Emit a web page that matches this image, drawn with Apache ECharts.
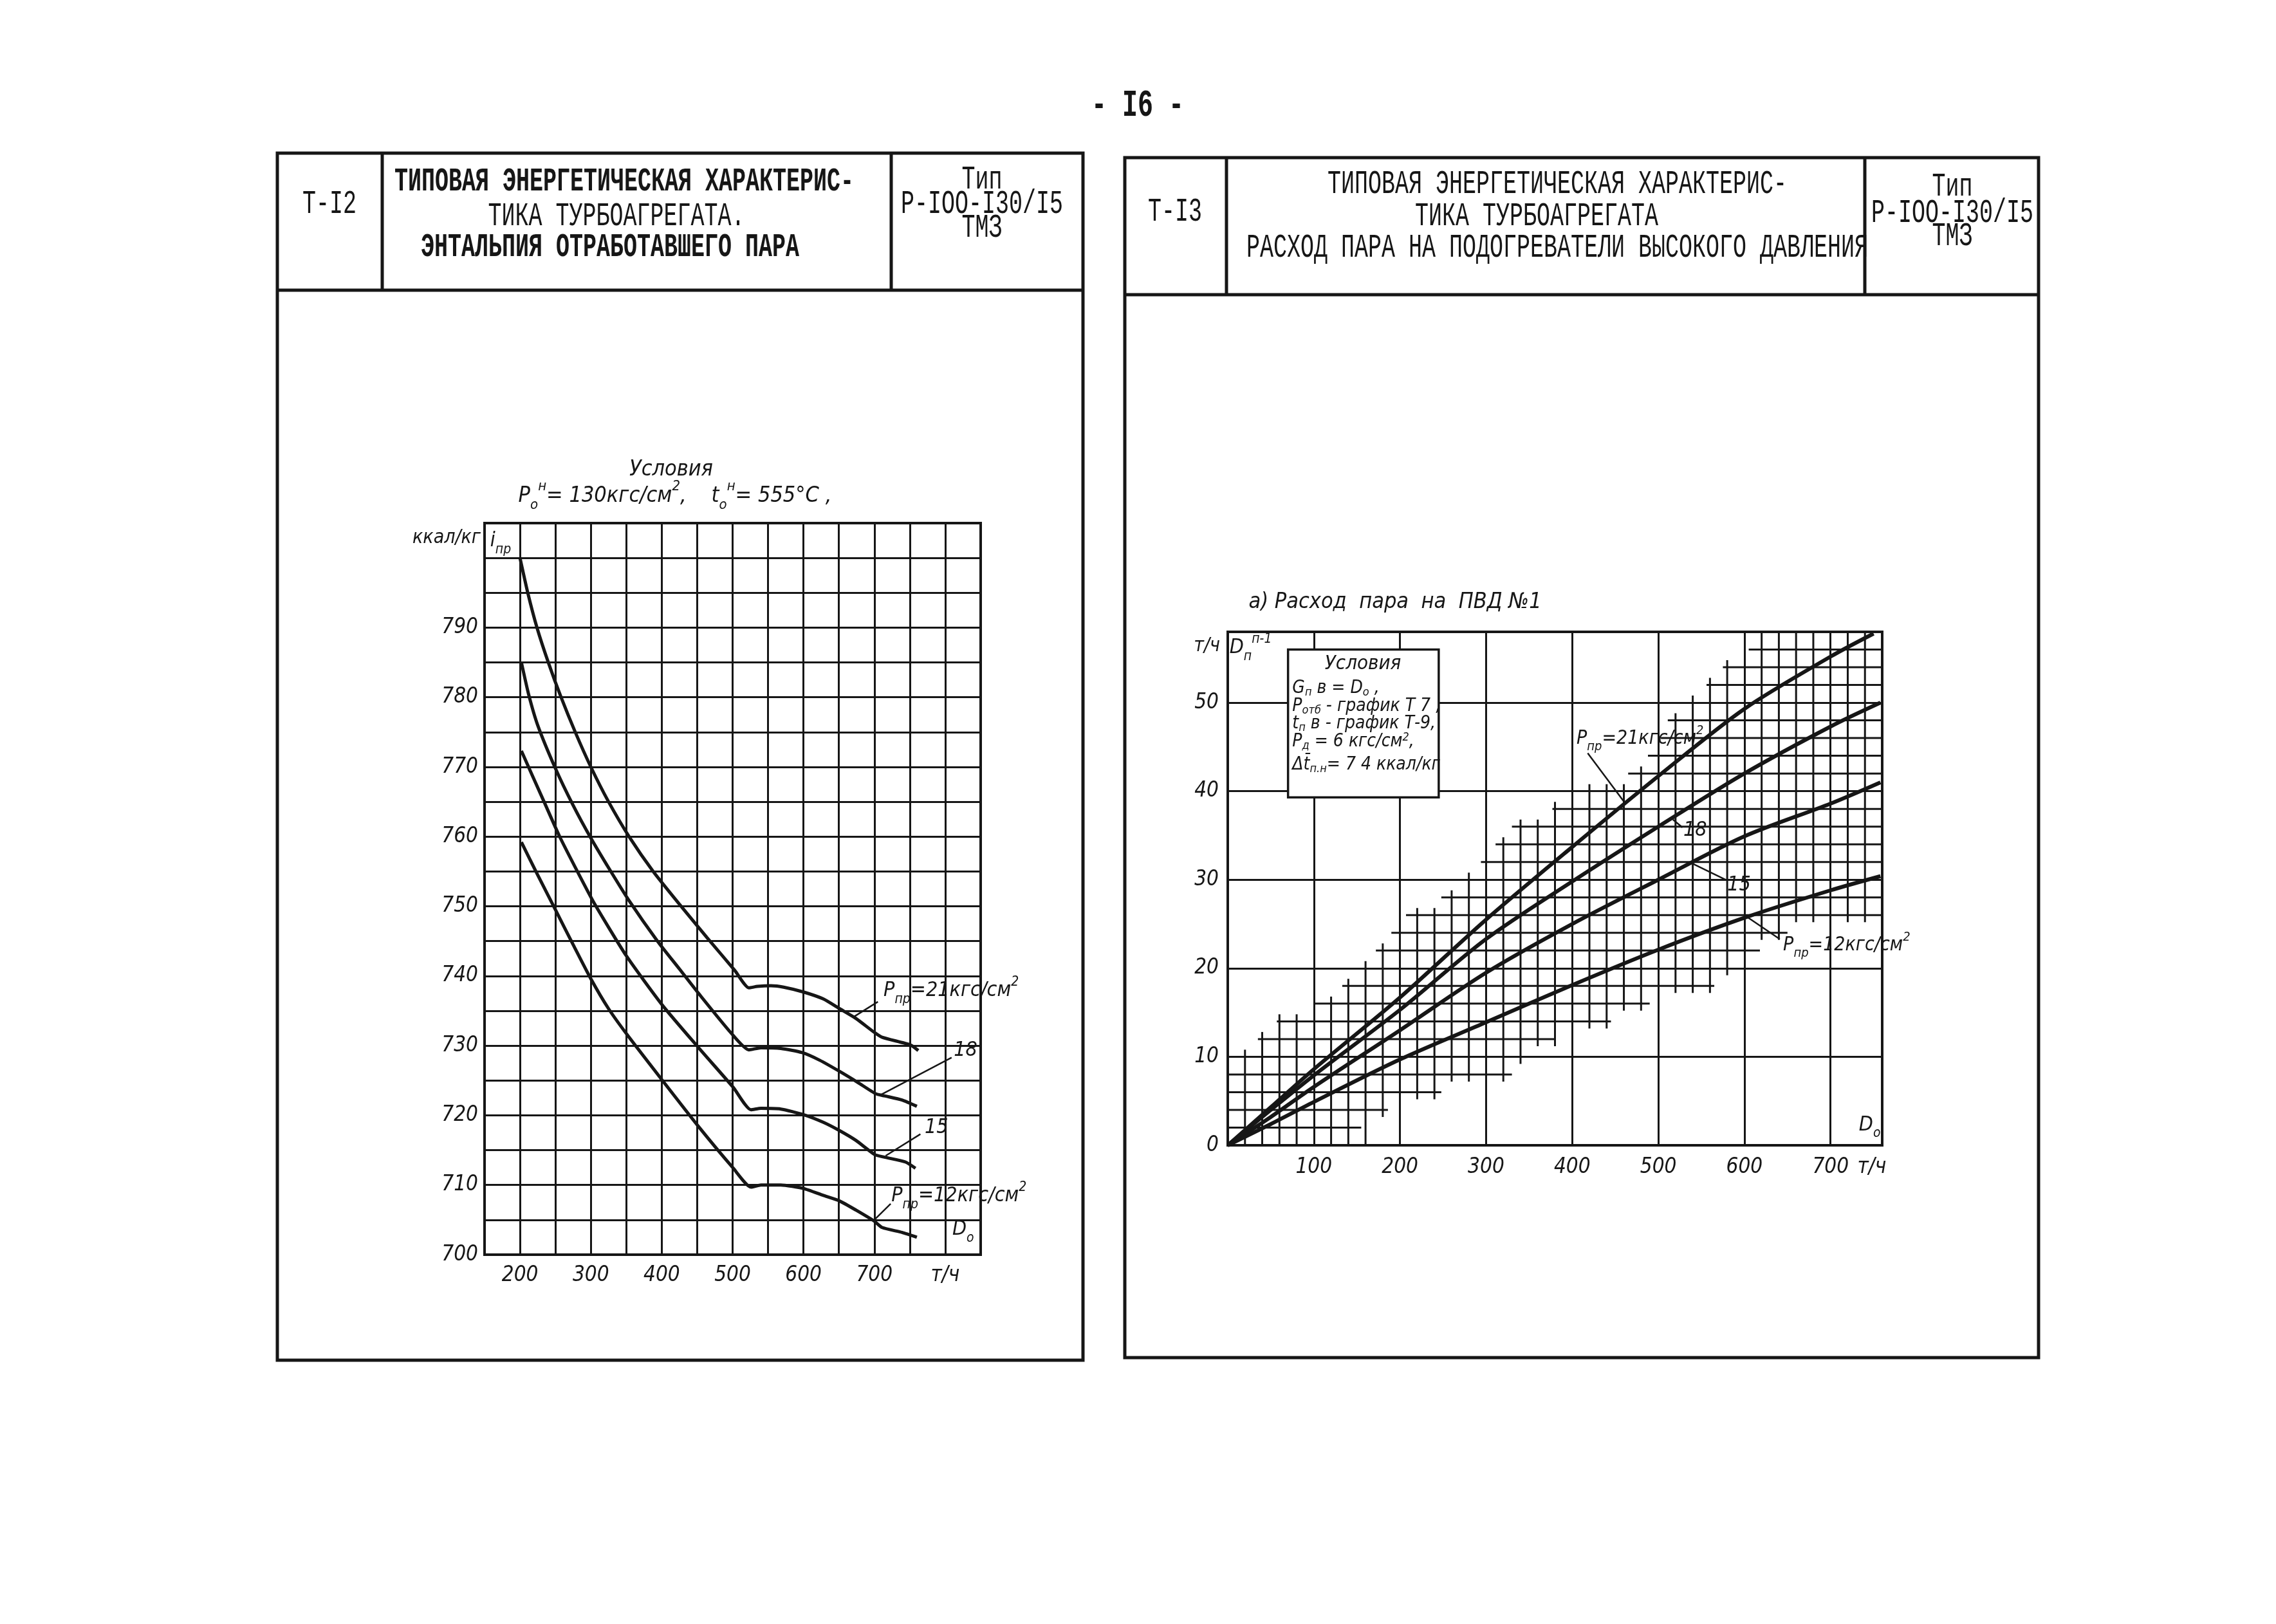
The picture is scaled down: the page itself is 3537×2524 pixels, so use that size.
<!DOCTYPE html>
<html><head><meta charset="utf-8">
<script src="https://cdn.jsdelivr.net/npm/echarts/dist/echarts.min.js"></script>
<style>html,body{margin:0;padding:0;background:#fff}#c{width:3537px;height:2524px}</style>
</head><body><div id="c"></div>
<script>
// ---------- DATA ----------
// Left chart T-12: enthalpy of exhaust steam i_пр (ккал/кг) vs D_o (т/ч)
const leftXTicks = [200, 300, 400, 500, 600, 700];
const leftXUnitAt = 800;
const leftYTicks = [700, 710, 720, 730, 740, 750, 760, 770, 780, 790];
const enth21 = [[200,800],[211,795],[224,790],[240,785],[258,780],[278,775],[300,770],[325,765],[354,760],[388,755],[425,750.3],[464,745.5],[503,740.8],[523,738.3],[535,738.5],[554,738.6],[572,738.4],[600,737.7],[628,736.7],[651,735.3],[674,733.9],[700,731.9],[711,731.2],[751,730.1],[762,729.3]];
const enth18 = [[202,785],[212,780.5],[225,776],[250,769.8],[275,764.5],[300,759.8],[327,755.2],[354,750.8],[394,745],[425,741],[452,737.5],[498,731.8],[523,729.4],[540,729.7],[568,729.6],[598,729],[623,727.9],[651,726.3],[677,724.7],[702,723.1],[714,722.8],[739,722.2],[760,721.3]];
const enth15 = [[202,772.3],[234,765],[256,760],[281,755],[305,750.4],[350,742.9],[401,735.8],[452,729.7],[501,724],[526,720.8],[540,721],[568,720.9],[600,720.1],[628,719],[651,717.8],[674,716.4],[700,714.4],[714,714],[744,713.3],[758,712.4]];
const enth12 = [[202,759.2],[225,754.5],[250,749.5],[275,744.5],[300,739.6],[325,735.3],[351,731.6],[401,725],[451,718.5],[501,712.4],[526,709.7],[540,710],[568,710],[600,709.5],[628,708.5],[651,707.7],[674,706.4],[700,704.8],[711,703.9],[739,703.2],[760,702.5]];

// Right chart T-13: steam flow to HPH No1 D_п (т/ч) vs D_o (т/ч)
const rightXTicks = [100, 200, 300, 400, 500, 600, 700];
const rightYTicks = [0, 10, 20, 30, 40, 50];
const flow21 = [[0,0],[50,4.3],[100,8.6],[200,16.7],[300,25.5],[400,33.7],[500,41.7],[600,49.3],[700,55.2],[750,57.8]];
const flow18 = [[0,0],[50,4.0],[100,7.9],[200,15.3],[300,23.3],[400,29.8],[500,36.0],[600,42.0],[700,47.3],[758,50.0]];
const flow15 = [[0,0],[50,3.2],[100,6.6],[200,13.0],[300,19.5],[400,25.0],[500,30.0],[600,34.9],[700,38.6],[758,41.0]];
const flow12 = [[0,0],[50,2.4],[100,4.9],[200,9.7],[300,13.9],[400,18.1],[500,22.1],[600,25.7],[700,28.8],[758,30.4]];
// fine-grid band: [y, xStart, xEnd] for each 2-unit row
const bandRows = [[0,0,165],[2,0,155],[4,0,186],[6,0,248],[8,0,330],[10,0,350],[12,35,380],[14,57,445],[16,100,490],[18,133,565],[20,152,590],[22,172,618],[24,190,650],[26,207,760],[28,248,760],[30,272,760],[32,294,760],[34,311,760],[36,330,760],[38,377,760],[40,418,760],[42,465,760],[44,488,760],[46,503,760],[48,511,760],[50,533,760],[52,556,760],[54,575,760],[56,605,760],[58,600,760]];

// ---------- STYLE ----------
const HAND = "'Liberation Sans Narrow','DejaVu Sans Condensed','Liberation Sans',sans-serif";
const TYPE = "'Liberation Mono','DejaVu Sans Mono',monospace";
const INK = '#161616';

const chart = echarts.init(document.getElementById('c'));

function fine() {
  const segs = [];
  bandRows.forEach(r => { if (r[0] % 10 !== 0 && r[0] > 0 && r[0] < 58) segs.push([0, r[0], r[1], r[2]]); });
  for (let x = 20; x < 760; x += 20) {
    if (x % 100 === 0) continue;
    let lo = null, hi = null;
    bandRows.forEach(r => { if (r[1] <= x && x <= r[2]) { if (lo === null || r[0] < lo) lo = r[0]; if (hi === null || r[0] > hi) hi = r[0]; } });
    if (lo === null) continue;
    segs.push([1, x, Math.max(0, lo - 0.8), Math.min(58, hi + 0.8)]);
  }
  return segs;
}

const axisLbl = {fontFamily: HAND, fontStyle: 'italic', fontSize: 33, color: INK};
const lineS = (g, d, w, sm) => ({type: 'line', xAxisIndex: g, yAxisIndex: g, data: d, showSymbol: false, symbol: 'none', smooth: sm, z: 5, lineStyle: {color: INK, width: w}});

chart.setOption({
  animation: false,
  backgroundColor: '#ffffff',
  grid: [
    {left: 753, top: 813, width: 771, height: 1137, show: true, borderColor: INK, borderWidth: 4, outerBoundsMode: 'none', containLabel: false},
    {left: 1908, top: 982, width: 1017, height: 798, show: true, borderColor: INK, borderWidth: 4, outerBoundsMode: 'none', containLabel: false}
  ],
  xAxis: [
    {gridIndex: 0, type: 'value', min: 150, max: 850, interval: 50,
      axisLine: {show: true, lineStyle: {color: INK, width: 4}}, axisTick: {show: false},
      splitLine: {show: true, lineStyle: {color: INK, width: 3}},
      axisLabel: Object.assign({}, axisLbl, {margin: 16, showMinLabel: true, showMaxLabel: true,
        formatter: v => leftXTicks.indexOf(v) >= 0 ? String(v) : (v === leftXUnitAt ? 'т/ч' : '')})},
    {gridIndex: 1, type: 'value', min: 0, max: 760, interval: 100,
      axisLine: {show: true, lineStyle: {color: INK, width: 4}}, axisTick: {show: false},
      splitLine: {show: true, lineStyle: {color: INK, width: 3}},
      axisLabel: Object.assign({}, axisLbl, {margin: 18, formatter: v => rightXTicks.indexOf(v) >= 0 ? String(v) : ''})}
  ],
  yAxis: [
    {gridIndex: 0, type: 'value', min: 700, max: 805, interval: 5,
      axisLine: {show: true, lineStyle: {color: INK, width: 4}}, axisTick: {show: false},
      splitLine: {show: true, lineStyle: {color: INK, width: 3}},
      axisLabel: Object.assign({}, axisLbl, {margin: 10, formatter: v => leftYTicks.indexOf(v) >= 0 ? String(v) : ''})},
    {gridIndex: 1, type: 'value', min: 0, max: 58, interval: 10,
      axisLine: {show: true, lineStyle: {color: INK, width: 4}}, axisTick: {show: false},
      splitLine: {show: true, lineStyle: {color: INK, width: 3}},
      axisLabel: Object.assign({}, axisLbl, {margin: 14, formatter: v => rightYTicks.indexOf(v) >= 0 ? String(v) : ''})}
  ],
  series: [
    lineS(0, enth21, 5, 0.2), lineS(0, enth18, 5, 0.2), lineS(0, enth15, 5, 0.2), lineS(0, enth12, 5, 0.2),
    {type: 'custom', xAxisIndex: 1, yAxisIndex: 1, data: fine(), z: 2, clip: false,
      renderItem: function (params, api) {
        const k = api.value(0), p = api.value(1), a = api.value(2), b = api.value(3);
        const s = k === 0 ? api.coord([a, p]) : api.coord([p, a]);
        const e = k === 0 ? api.coord([b, p]) : api.coord([p, b]);
        return {type: 'line', shape: {x1: s[0], y1: s[1], x2: e[0], y2: e[1]}, style: {stroke: INK, lineWidth: 3}};
      }},
    lineS(1, flow21, 6, 0.3), lineS(1, flow18, 6, 0.3), lineS(1, flow15, 6, 0.3), lineS(1, flow12, 6, 0.3),
    // leader lines
    ...[[[672,734.2],[705,736.3]], [[708,722.9],[809,728.3]], [[716,714.2],[765,717.3]], [[700,705],[723,707.3]]]
      .map(d => ({type: 'line', xAxisIndex: 0, yAxisIndex: 0, data: d, symbol: 'none', z: 6, lineStyle: {color: INK, width: 2.5}})),
    ...[[[418,44.3],[461,38.7]], [[517,36.8],[528,35.9]], [[540,31.8],[578,30]], [[603,25.8],[641,23.3]]]
      .map(d => ({type: 'line', xAxisIndex: 1, yAxisIndex: 1, data: d, symbol: 'none', z: 6, lineStyle: {color: INK, width: 2.5}}))
  ]
});

// ---------- ANNOTATIONS ----------
function px(g, p) { return chart.convertToPixel({gridIndex: g}, p); }
function rich(fs, lhf) {
  const lh = Math.round(fs * (lhf || 1.5));
  return {
    b: {fontSize: fs, fontFamily: HAND, fontStyle: 'italic', lineHeight: lh, verticalAlign: 'middle', fill: INK},
    sub: {fontSize: Math.round(fs * 0.66), fontFamily: HAND, fontStyle: 'italic', lineHeight: lh, verticalAlign: 'bottom', fill: INK},
    sup: {fontSize: Math.round(fs * 0.66), fontFamily: HAND, fontStyle: 'italic', lineHeight: lh, verticalAlign: 'top', fill: INK}
  };
}
function hand(x, y, text, o) {
  o = o || {};
  const fs = o.fs || 32;
  return {type: 'text', x: x, y: y, z: 60, style: {text: text, fill: INK, fontFamily: HAND, fontStyle: 'italic', fontSize: fs, fontWeight: o.fw || 'normal',
    align: o.align || 'left', verticalAlign: o.va || 'middle', rich: rich(fs, o.lh)}};
}
function handAt(g, p, text, o) { const q = px(g, p); o = o || {}; return hand(q[0] + (o.dx || 0), q[1] + (o.dy || 0), text, o); }
function tw(x, y, text, o) {
  o = o || {};
  return {type: 'text', x: x, y: y, scaleY: 1.5, z: 60, style: {text: text, fill: INK, fontFamily: TYPE, fontSize: o.fs || 35, fontWeight: o.fw || 'normal', align: 'center', verticalAlign: 'middle'}};
}
function ln(x1, y1, x2, y2, w) { return {type: 'line', z: 40, shape: {x1, y1, x2, y2}, style: {stroke: INK, lineWidth: w || 5}}; }

const P21 = '{b|P}{sub|пр}{b|=21кгс/см}{sup|2}';
const P12 = '{b|P}{sub|пр}{b|=12кгс/см}{sup|2}';
const b0 = px(1, [70, 56]), b1 = px(1, [245, 39.3]);
const box = {fs: 28, lh: 1.1};

const g = [
  // frames
  {type: 'rect', z: 40, shape: {x: 431, y: 238, width: 1683 - 431, height: 2114 - 238}, style: {fill: 'none', stroke: INK, lineWidth: 5}},
  ln(431, 451, 1683, 451), ln(594, 238, 594, 451), ln(1385, 238, 1385, 451),
  {type: 'rect', z: 40, shape: {x: 1748, y: 245, width: 3168 - 1748, height: 2110 - 245}, style: {fill: 'none', stroke: INK, lineWidth: 5}},
  ln(1748, 458, 3168, 458), ln(1906, 245, 1906, 458), ln(2898, 245, 2898, 458),
  // typewritten texts
  tw(1768, 165, '- I6 -', {fs: 40, fw: 'bold'}),
  tw(512, 317, 'Т-I2'),
  tw(970, 283, 'ТИПОВАЯ ЭНЕРГЕТИЧЕСКАЯ ХАРАКТЕРИС-', {fw: 'bold'}),
  tw(958, 336, 'ТИКА ТУРБОАГРЕГАТА.'),
  tw(948, 385, 'ЭНТАЛЬПИЯ ОТРАБОТАВШЕГО ПАРА', {fw: 'bold'}),
  tw(1526, 279, 'Тип'), tw(1526, 317, 'Р-IOO-I30/I5'), tw(1526, 354, 'ТМЗ'),
  tw(1826, 329, 'Т-I3'),
  tw(2420, 286, 'ТИПОВАЯ ЭНЕРГЕТИЧЕСКАЯ ХАРАКТЕРИС-'),
  tw(2388, 336, 'ТИКА ТУРБОАГРЕГАТА'),
  tw(2420, 385, 'РАСХОД ПАРА НА ПОДОГРЕВАТЕЛИ ВЫСОКОГО ДАВЛЕНИЯ'),
  tw(3034, 290, 'Тип'), tw(3034, 331, 'Р-IOO-I30/I5'), tw(3034, 367, 'ТМЗ'),
  // left chart handwriting
  hand(1043, 730, 'Условия', {fs: 34, align: 'center'}),
  hand(1049, 771, '{b|P}{sub|o}{sup|н}{b|= 130кгс/см}{sup|2}{b|,    t}{sub|o}{sup|н}{b|= 555°C ,}', {fs: 34, align: 'center'}),
  handAt(0, [150, 802.9], 'ккал/кг', {align: 'right', dx: -6, fs: 30}),
  handAt(0, [158, 802.4], '{b|i}{sub|пр}', {fs: 32}),
  handAt(0, [713, 737.9], P21, {fs: 32}),
  handAt(0, [812, 729.3], '18', {fs: 32}),
  handAt(0, [771, 718.2], '15', {fs: 32}),
  handAt(0, [724, 708.4], P12, {fs: 32}),
  handAt(0, [810, 703.6], '{b|D}{sub|o}', {fs: 32}),
  // right chart handwriting
  hand(2168, 936, 'а) Расход  пара  на  ПВД №1', {fs: 34, align: 'center'}),
  handAt(1, [0, 56.4], 'т/ч', {align: 'right', dx: -12, fs: 30}),
  handAt(1, [2, 56.2], '{b|D}{sub|п}{sup|п-1}', {fs: 32}),
  handAt(1, [748, 0], 'т/ч', {align: 'center', va: 'top', dy: 18, fs: 33}),
  handAt(1, [405, 45.9], P21, {fs: 30}),
  handAt(1, [529, 35.6], '18', {fs: 32}),
  handAt(1, [580, 29.4], '15', {fs: 32}),
  handAt(1, [645, 22.6], P12, {fs: 30}),
  handAt(1, [733, 2.3], '{b|D}{sub|o}', {fs: 32}),
  // conditions box
  {type: 'rect', z: 50, shape: {x: b0[0], y: b0[1], width: b1[0] - b0[0], height: b1[1] - b0[1]}, style: {fill: '#fff', stroke: INK, lineWidth: 3.5}},
  handAt(1, [157, 54.4], 'Условия', {fs: 31, align: 'center'}),
  handAt(1, [75, 51.6], '{b|G}{sub|п}{b| в = D}{sub|о}{b| ,}', box),
  handAt(1, [75, 49.6], '{b|P}{sub|отб}{b| - график Т 7 ,}', box),
  handAt(1, [75, 47.6], '{b|t}{sub|п}{b| в - график Т-9,}', box),
  handAt(1, [75, 45.6], '{b|P}{sub|д}{b| = 6 кгс/см}{sup|2}{b|,}', box),
  handAt(1, [75, 43.0], '{b|Δt\u0304}{sub|п.н}{b|= 7 4 ккал/кг}', box)
];
chart.setOption({graphic: g});
</script></body></html>
